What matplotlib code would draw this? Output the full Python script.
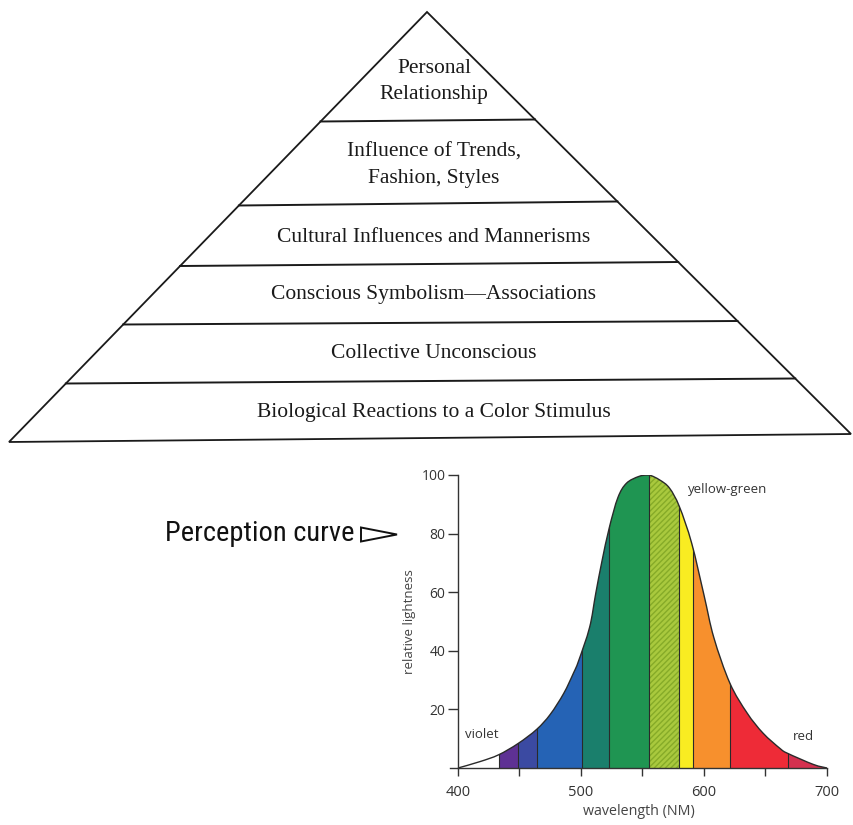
import numpy as np
import matplotlib
matplotlib.use("Agg")
import matplotlib.pyplot as plt
from matplotlib.patches import Polygon, PathPatch, Rectangle
from matplotlib.path import Path

# ---------------- data ----------------
pyramid_levels = [
    "Personal\nRelationship",
    "Influence of Trends,\nFashion, Styles",
    "Cultural Influences and Mannerisms",
    "Conscious Symbolism\u2014Associations",
    "Collective Unconscious",
    "Biological Reactions to a Color Stimulus",
]

wavelength = [400, 418, 433, 449, 464, 475, 486, 494, 498, 507, 512, 517, 523,
              530, 537, 547, 555, 564, 572, 580, 590, 600, 608, 621, 635, 648,
              662, 668, 689, 700]
lightness = [0, 2.2, 4.5, 8.4, 13.2, 18.3, 25.5, 32.5, 36.5, 48, 59.6, 70.5, 82,
             92.3, 97.2, 99.5, 100, 98.3, 95.5, 89.2, 76.7, 59, 44.5, 29, 18.8,
             11.9, 6.6, 5.0, 1.2, 0]

band_edges = [433, 449, 464, 501, 523, 555, 580, 591, 621, 668, 700]
band_colors = ["#5e3194", "#3b4aa2", "#2563b5", "#1a7f6c", "#1f9552",
               "#a9c93e", "#f9ec22", "#f7902d", "#ee2b37", "#d4304f"]
band_hatch = [None, None, None, None, None, "//////", None, None, None, None]

x_ticks = [400, 500, 600, 700]
x_minor = [450, 550, 650]
y_ticks = [20, 40, 60, 80, 100]

W, H = 854, 825
fig = plt.figure(figsize=(W / 100, H / 100), dpi=100)
fig.patch.set_facecolor("white")

# ---------------- pyramid (pixel space) ----------------
pax = fig.add_axes([0, 0, 1, 1])
pax.set_xlim(0, W)
pax.set_ylim(H, 0)
pax.axis("off")

apex = (427, 12)
base_l = (9, 442)
base_r = (851, 434)
pax.add_patch(Polygon([apex, base_l, base_r], closed=True, fill=False,
                      ec="#1a1a1a", lw=1.3))

def side_x(y, left=True):
    p = base_l if left else base_r
    t = (y - apex[1]) / (p[1] - apex[1])
    return apex[0] + t * (p[0] - apex[0])

divider_y = [(121.5, 119.5), (205.5, 201.5), (266, 262), (324.5, 321), (383.5, 378.5)]
for yl, yr in divider_y:
    pax.plot([side_x(yl, True), side_x(yr, False)], [yl, yr], color="#1a1a1a", lw=1.4)

text_y = [81.5, 165, 237, 295, 354, 412]
for lab, ty in zip(pyramid_levels, text_y):
    pax.text(434, ty, lab, ha="center", va="center", fontsize=15.5,
             family="Liberation Serif", color="#1a1a1a", linespacing=1.5)

# Perception curve label + arrow
pax.text(165, 541, "Perception curve", ha="left", va="baseline", fontsize=20.5,
         family=["Roboto Condensed", "Roboto"], color="#111111")
pax.add_patch(Polygon([(361, 527.5), (397, 534.5), (361, 541.5)], closed=True,
                      fill=False, ec="#111111", lw=1.4))

# ---------------- perception curve chart ----------------
ax = fig.add_axes([450 / W, 57 / H, 377 / W, 293 / H])
ax.set_xlim(393.5, 700)
ax.set_ylim(0, 100)
ax.set_facecolor("none")

# smooth (Catmull-Rom -> cubic Bezier) path through the read points
pts = np.column_stack([wavelength, lightness]).astype(float)
n = len(pts)
verts = [tuple(pts[0])]
codes = [Path.MOVETO]
for i in range(n - 1):
    p0 = pts[i - 1] if i > 0 else pts[i]
    p1, p2 = pts[i], pts[i + 1]
    p3 = pts[i + 2] if i + 2 < n else pts[i + 1]
    c1 = p1 + (p2 - p0) / 6.0
    c2 = p2 - (p3 - p1) / 6.0
    c1[1] = min(max(c1[1], 0), 100)
    c2[1] = min(max(c2[1], 0), 100)
    verts += [tuple(c1), tuple(c2), tuple(p2)]
    codes += [Path.CURVE4] * 3
curve_path = Path(verts, codes)
area_path = Path(verts + [(pts[-1][0], 0), (pts[0][0], 0), (pts[0][0], 0)],
                 codes + [Path.LINETO, Path.LINETO, Path.CLOSEPOLY])

clip = PathPatch(area_path, transform=ax.transData, fc="none", ec="none")
ax.add_patch(clip)

for i, col in enumerate(band_colors):
    lo, hi = band_edges[i], band_edges[i + 1]
    r = Rectangle((lo, 0), hi - lo, 101, fc=col, lw=0,
                  ec="#86ab28" if band_hatch[i] else "none",
                  hatch=band_hatch[i])
    ax.add_patch(r)
    r.set_clip_path(clip)

for e in band_edges[:-1]:
    ln, = ax.plot([e, e], [0, 101], color="#2a2a2a", lw=0.8)
    ln.set_clip_path(clip)

ax.add_patch(PathPatch(curve_path, fc="none", ec="#2a2a2a", lw=1.0))

for s in ["top", "right"]:
    ax.spines[s].set_visible(False)
ax.spines["left"].set_position(("data", 400))
for s in ["left", "bottom"]:
    ax.spines[s].set_color("#333333")
    ax.spines[s].set_linewidth(1.0)

ax.set_xticks(x_ticks)
ax.set_xticks(x_minor, minor=True)
ax.set_yticks(y_ticks)
ax.tick_params(axis="both", which="both", direction="out", color="#333333",
               width=1.0, labelcolor="#333333")
ax.tick_params(axis="x", which="both", length=6, pad=6, labelsize=10.5)
ax.tick_params(axis="y", which="both", length=7, pad=2, labelsize=10)
for lab in ax.get_xticklabels() + ax.get_yticklabels():
    lab.set_family("Open Sans")

ax.set_xlabel("wavelength (NM)", fontsize=10.3, family="Open Sans",
              color="#444444", labelpad=3)
ax.set_ylabel("relative lightness", fontsize=9.5, family="Open Sans",
              color="#444444", labelpad=4)

ax.text(419.5, 11.3, "violet", ha="center", va="center", fontsize=9.5,
        family="Open Sans", color="#333333")
ax.text(681, 10.7, "red", ha="center", va="center", fontsize=9.5,
        family="Open Sans", color="#333333")
ax.text(619, 95, "yellow-green", ha="center", va="center", fontsize=9.5,
        family="Open Sans", color="#333333")

fig.savefig("out.png", dpi=100, facecolor="white")
